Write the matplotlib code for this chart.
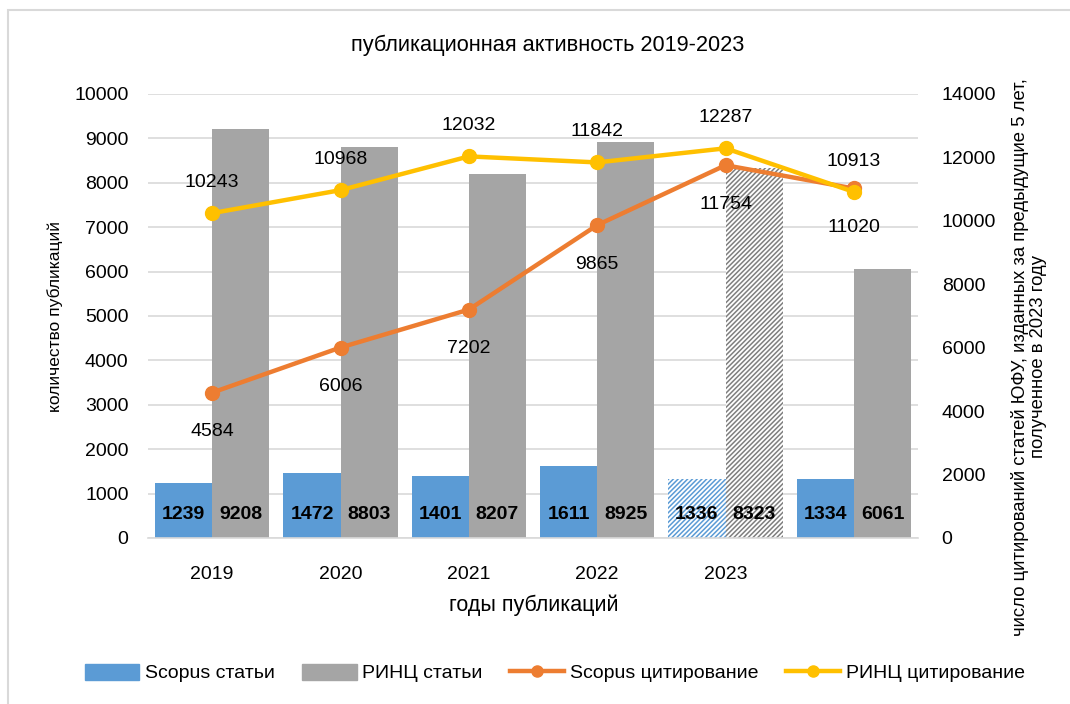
import matplotlib
matplotlib.use('Agg')
import matplotlib.pyplot as plt
import numpy as np
from matplotlib.patches import Rectangle, Patch
from matplotlib.lines import Line2D

years = ['2019', '2020', '2021', '2022', '2023', '']
scopus_papers = [1239, 1472, 1401, 1611, 1336, 1334]
rinc_papers = [9208, 8803, 8207, 8925, 8323, 6061]
scopus_cites = [4584, 6006, 7202, 9865, 11754, 11020]
rinc_cites = [10243, 10968, 12032, 11842, 12287, 10913]
hatched = [False, False, False, False, True, False]

blue = '#5B9BD5'
gray = '#A5A5A5'
orange = '#ED7D31'
yellow = '#FFC000'

plt.rcParams['font.family'] = ['Liberation Sans', 'DejaVu Sans']
plt.rcParams['hatch.linewidth'] = 1.1

fig = plt.figure(figsize=(10.7, 7.04), dpi=100)
ax = fig.add_axes([0.1383, 0.2358, 0.858 - 0.1383, 0.8665 - 0.2358])
ax2 = ax.twinx()

x = np.arange(len(years))
w = 0.445
for i in x:
    if hatched[i]:
        ax.bar(i - w / 2, scopus_papers[i], w, facecolor='white', edgecolor=blue,
               hatch='///////', linewidth=0, zorder=2)
        ax.bar(i + w / 2, rinc_papers[i], w, facecolor='white', edgecolor='#7f7f7f',
               hatch='///////', linewidth=0, zorder=2)
    else:
        ax.bar(i - w / 2, scopus_papers[i], w, color=blue, zorder=2)
        ax.bar(i + w / 2, rinc_papers[i], w, color=gray, zorder=2)
    ax.text(i - w / 2, 520, str(scopus_papers[i]), ha='center', va='center',
            fontsize=14, fontweight='bold', zorder=3)
    ax.text(i + w / 2, 520, str(rinc_papers[i]), ha='center', va='center',
            fontsize=14, fontweight='bold', zorder=3)

ax.set_xlim(-0.5, 5.5)
ax.set_ylim(0, 10000)
ax.set_yticks(range(0, 10001, 1000))
ax.grid(axis='y', color='#d9d9d9', linewidth=1.2, zorder=0)
ax.set_axisbelow(True)
ax.set_xticks(x)
ax.set_xticklabels(years)
ax.tick_params(axis='both', length=0, labelsize=14)
ax.tick_params(axis='x', pad=20)
ax.tick_params(axis='y', pad=14)
for s in ['top', 'left', 'right']:
    ax.spines[s].set_visible(False)
ax.spines['bottom'].set_color('#d9d9d9')
ax.spines['bottom'].set_linewidth(1.2)

ax2.plot(x, scopus_cites, color=orange, linewidth=3.2, marker='o', markersize=10, zorder=4)
ax2.plot(x, rinc_cites, color=yellow, linewidth=3.2, marker='o', markersize=10, zorder=5)
for i in x:
    ax2.annotate(str(rinc_cites[i]), (i, rinc_cites[i]), xytext=(0, 22),
                 textcoords='offset points', ha='center', va='center', fontsize=14)
    ax2.annotate(str(scopus_cites[i]), (i, scopus_cites[i]), xytext=(0, -28),
                 textcoords='offset points', ha='center', va='center', fontsize=14)
ax2.set_ylim(0, 14000)
ax2.set_yticks(range(0, 14001, 2000))
ax2.tick_params(axis='y', length=0, labelsize=14, pad=17)
for s in ax2.spines.values():
    s.set_visible(False)

fig.text(548 / 1070, 1 - 45 / 704, 'публикационная активность 2019-2023',
         ha='center', va='center', fontsize=15.7)
fig.text(534 / 1070, 1 - 605 / 704, 'годы публикаций',
         ha='center', va='center', fontsize=15.5)
fig.text(55 / 1070, 1 - 316 / 704, 'количество публикаций',
         ha='center', va='center', rotation=90, fontsize=12.5)
fig.text(1029 / 1070, 1 - 357 / 704,
         'число цитирований статей ЮФУ, изданных за предыдущие 5 лет,\nполученное в 2023 году',
         ha='center', va='center', rotation=90, fontsize=13.3, linespacing=1.15,
         multialignment='center')

handles = [Patch(color=blue), Patch(color=gray),
           Line2D([], [], color=orange, lw=3.2, marker='o', markersize=8),
           Line2D([], [], color=yellow, lw=3.2, marker='o', markersize=8)]
labels = ['Scopus статьи', 'РИНЦ статьи', 'Scopus цитирование', 'РИНЦ цитирование']
fig.legend(handles, labels, loc='center', bbox_to_anchor=(555 / 1070, 1 - 673 / 704), ncol=4,
           frameon=False, fontsize=14, handlelength=2.8, handleheight=0.9,
           columnspacing=1.4, handletextpad=0.3, borderpad=0, borderaxespad=0)

fig.patches.append(Rectangle((8 / 1070, -0.1), 1.2, (704 - 10) / 704 + 0.1,
                             transform=fig.transFigure, fill=False,
                             edgecolor='#d9d9d9', linewidth=1.5))

fig.savefig('out.png', dpi=100)
